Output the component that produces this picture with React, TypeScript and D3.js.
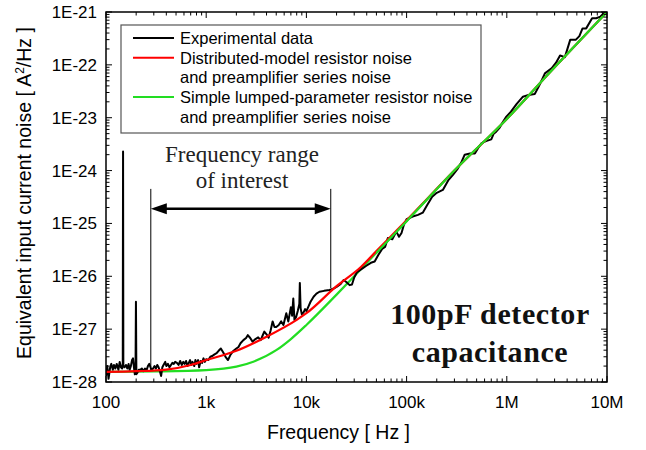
import React from "react";
import * as d3 from "d3";

const W = 646;
const H = 450;

// Tick labels
const xTickValues = [1e2, 1e3, 1e4, 1e5, 1e6, 1e7];
const xTickLabels = ["100", "1k", "10k", "100k", "1M", "10M"];
const yTickValues = [1e-28, 1e-27, 1e-26, 1e-25, 1e-24, 1e-23, 1e-22, 1e-21];
const yTickLabels = ["1E-28", "1E-27", "1E-26", "1E-25", "1E-24", "1E-23", "1E-22", "1E-21"];

// Experimental data (Hz)
const expFreq = [
  100, 103, 106, 110, 113, 117, 120, 124, 128, 133, 137, 141, 145, 147, 148, 149, 153, 158, 163, 168,
  172, 177, 182, 186, 190, 194, 197, 199, 201, 206, 212, 220, 228, 236, 245, 255, 262, 270, 278, 285,
  295, 305, 315, 325, 335, 345, 355, 365, 375, 390, 400, 415, 430, 445, 460, 475, 490, 510, 530, 550,
  570, 590, 610, 630, 650, 670, 690, 710, 730, 760, 780, 800, 830, 850, 880, 910, 940, 970, 1000,
  1050, 1100, 1150, 1200, 1270, 1330, 1400, 1480, 1560, 1650, 1750, 1850, 2000, 2100, 2200, 2350, 2500,
  2600, 2750, 2900, 3100, 3300, 3500, 3650, 3800, 4000, 4200, 4400, 4600, 4800, 5000, 5300, 5600, 5900,
  6300, 6600, 7000, 7200, 7400, 7600, 7900, 8200, 8500, 8600, 8750, 9000, 9400, 9700, 10000, 10500,
  11000, 11800, 12600, 13500, 15000, 17000, 18500, 20000, 22000, 23500, 25000, 27000, 28500, 30000,
  32000, 36000, 40000, 44000, 48000, 52000, 57000, 61000, 65000, 72000, 79000, 84000, 89000, 94000,
  100000, 115000, 130000, 145000, 160000, 180000, 200000, 230000, 260000, 290000, 320000, 350000,
  380000, 430000, 480000, 520000, 560000, 620000, 700000, 740000, 780000, 850000, 920000, 990000,
  1.1e6, 1.25e6, 1.45e6, 1.65e6, 1.9e6, 2.1e6, 2.4e6, 2.8e6, 3.1e6, 3.4e6, 3.8e6, 4.3e6, 4.9e6, 5.3e6,
  5.7e6, 6.2e6, 7.1e6, 7.8e6, 8.6e6, 9.5e6, 1e7,
];
// Experimental data (A^2/Hz)
const expNoise = [
  1.3e-28, 2.0e-28, 1.15e-28, 1.9e-28, 2.2e-28, 1.7e-28, 2.1e-28, 1.8e-28, 2.2e-28, 1.7e-28, 2.4e-28, 1.9e-28, 1.8e-28, 2.2e-28, 2.3e-24, 2.0e-28, 1.9e-28, 2.1e-28, 1.8e-28, 2.2e-28,
  1.7e-28, 2.0e-28, 2.6e-28, 2.8e-28, 1.9e-28, 1.4e-28, 1.6e-28, 3.3e-27, 1.4e-28, 1.5e-28, 1.7e-28, 1.7e-28, 1.8e-28, 1.6e-28, 1.8e-28, 1.7e-28, 2.0e-28, 2.2e-28, 1.9e-28, 1.7e-28,
  1.8e-28, 2.0e-28, 1.8e-28, 2.1e-28, 1.9e-28, 1.6e-28, 1.3e-28, 1.9e-28, 2.1e-28, 2.4e-28, 2.0e-28, 2.2e-28, 1.9e-28, 2.1e-28, 2.3e-28, 2.2e-28, 2.4e-28, 2.3e-28, 2.1e-28, 2.5e-28,
  2.1e-28, 2.4e-28, 2.2e-28, 2.5e-28, 2.0e-28, 2.3e-28, 2.6e-28, 2.1e-28, 2.4e-28, 2.0e-28, 2.6e-28, 2.2e-28, 2.6e-28, 1.9e-28, 2.5e-28, 2.3e-28, 2.8e-28, 2.4e-28, 2.7e-28,
  2.6e-28, 3.0e-28, 3.1e-28, 3.3e-28, 3.5e-28, 3.9e-28, 4.3e-28, 3.6e-28, 3.0e-28, 2.6e-28, 3.3e-28, 3.8e-28, 4.3e-28, 4.6e-28, 5.4e-28, 6.2e-28, 6.8e-28,
  7.7e-28, 6.8e-28, 5.8e-28, 6.5e-28, 7.0e-28, 6.2e-28, 7.5e-28, 9.0e-28, 8.0e-28, 6.9e-28, 9.5e-28, 1.4e-27, 1.1e-27, 1.1e-27, 1.2e-27, 1.4e-27, 1.2e-27,
  2.0e-27, 1.4e-27, 2.6e-27, 1.8e-27, 3.8e-27, 1.5e-27, 1.7e-27, 2.2e-27, 3.0e-27, 7.5e-27, 2.5e-27, 1.9e-27, 2.1e-27, 2.4e-27, 2.2e-27, 2.7e-27,
  3.3e-27, 4.1e-27, 4.7e-27, 5.1e-27, 5.3e-27, 5.5e-27, 5.8e-27, 6.3e-27, 7.2e-27, 8.5e-27, 7.8e-27, 6.8e-27, 7.0e-27, 9.5e-27,
  1.2e-26, 1.4e-26, 1.6e-26, 1.8e-26, 1.9e-26, 2.5e-26, 3.3e-26, 3.6e-26, 5.3e-26, 5.0e-26, 7.0e-26, 5.6e-26, 6.6e-26, 9.5e-26,
  1.2e-25, 1.35e-25, 1.45e-25, 1.6e-25, 2.2e-25, 3.2e-25, 3.8e-25, 4.3e-25, 6.5e-25, 8.3e-25, 1.05e-24, 1.4e-24,
  2.0e-24, 2.1e-24, 2.1e-24, 2.7e-24, 3.3e-24, 3.6e-24, 3.9e-24, 5.0e-24, 5.4e-24, 6.5e-24, 8.5e-24, 1.05e-23,
  1.3e-23, 1.8e-23, 2.5e-23, 2.7e-23, 2.8e-23, 4.0e-23, 6.9e-23, 8.6e-23, 1.1e-22, 1.5e-22, 1.4e-22, 3.0e-22, 3.0e-22, 3.5e-22,
  4.9e-22, 4.9e-22, 7.6e-22, 7.6e-22, 8.2e-22, 9.8e-22, 1.0e-21,
];

// Distributed-model curve
const distFreq = [100, 200, 400, 700, 1000, 2000, 4000, 8000, 10000, 20000, 35000, 50000, 100000, 300000, 1e6, 3e6, 1e7];
const distNoise = [1.55e-28, 1.6e-28, 1.72e-28, 2.1e-28, 2.6e-28, 3.9e-28, 7.2e-28, 1.5e-27, 2.0e-27, 6.5e-27, 1.5e-26, 3.0e-26, 1.15e-25, 1.0e-24, 9.5e-24, 9.0e-23, 1.0e-21];

// Simple lumped-parameter curve
const lumpFreq = [100, 300, 1000, 2000, 3000, 5000, 7000, 10000, 20000, 30000, 50000, 100000, 300000, 1e6, 3e6, 1e7];
const lumpNoise = [1.55e-28, 1.58e-28, 1.68e-28, 1.95e-28, 2.45e-28, 4.0e-28, 6.5e-28, 1.2e-27, 4.5e-27, 1.0e-26, 2.8e-26, 1.1e-25, 1.0e-24, 9.5e-24, 9.0e-23, 1.0e-21];

// Annotation (frequency range of interest)
const rangeFreq = [280, 17500];
const rangeLineBottom = [1.7e-28, 6e-27];
const rangeLineTop = 4.5e-25;
const rangeArrowLevel = 1.9e-25;

const legendItems = [
  { color: "#000000", lines: ["Experimental data"] },
  { color: "#ff0000", lines: ["Distributed-model resistor noise", "and preamplifier series noise"] },
  { color: "#22dd22", lines: ["Simple lumped-parameter resistor noise", "and preamplifier series noise"] },
];

const M = { left: 106, right: 607, top: 12, bottom: 382 };

export default function App() {
  const x = d3.scaleLog().domain([100, 1e7]).range([M.left, M.right]);
  const y = d3.scaleLog().domain([1e-28, 1e-21]).range([M.bottom, M.top]);

  const toPts = (fs: number[], vs: number[]) => fs.map((f, i) => [f, vs[i]] as [number, number]);
  const rough = d3.line<[number, number]>().x((d) => x(d[0])).y((d) => y(d[1]));
  const smooth = d3
    .line<[number, number]>()
    .x((d) => x(d[0]))
    .y((d) => y(d[1]))
    .curve(d3.curveMonotoneX);

  const xMinor: number[] = [];
  for (let e = 2; e < 7; e++) for (let k = 2; k <= 9; k++) xMinor.push(k * Math.pow(10, e));
  const yMinor: number[] = [];
  for (let e = -28; e < -21; e++) for (let k = 2; k <= 9; k++) yMinor.push(k * Math.pow(10, e));

  const majorLen = 6;
  const minorLen = 3.5;
  const tickFont = "Arial, 'Liberation Sans', sans-serif";
  const serif = "'Liberation Serif', 'Times New Roman', serif";

  const xl = x(rangeFreq[0]);
  const xr = x(rangeFreq[1]);
  const ya = y(rangeArrowLevel);

  const legX = 121, legY = 25, legW = 360, legH = 108;
  let row = 0;

  return (
    <svg width={W} height={H} style={{ position: "absolute", left: 0, top: 0, background: "#fff" }}>
      <defs>
        <clipPath id="plotclip">
          <rect x={M.left} y={M.top} width={M.right - M.left} height={M.bottom - M.top} />
        </clipPath>
      </defs>
      <rect x={0} y={0} width={W} height={H} fill="#fff" />

      {/* data */}
      <g clipPath="url(#plotclip)" fill="none" strokeLinejoin="round">
        <path d={smooth(toPts(lumpFreq, lumpNoise)) || ""} stroke="#22dd22" strokeWidth={2.2} />
        <path d={rough(toPts(expFreq, expNoise)) || ""} stroke="#000" strokeWidth={2} />
        <path d={smooth(toPts(distFreq, distNoise)) || ""} stroke="#ff0000" strokeWidth={2.2} />
        <path d={smooth(toPts(lumpFreq, lumpNoise).filter((d) => d[0] >= 50000)) || ""} stroke="#22dd22" strokeWidth={2.2} />
      </g>

      {/* frame */}
      <rect x={M.left} y={M.top} width={M.right - M.left} height={M.bottom - M.top} fill="none" stroke="#000" strokeWidth={1.5} />

      {/* ticks */}
      <g stroke="#000" strokeWidth={1}>
        {xTickValues.map((v) => (
          <g key={"xm" + v}>
            <line x1={x(v)} x2={x(v)} y1={M.bottom} y2={M.bottom - majorLen} />
            <line x1={x(v)} x2={x(v)} y1={M.top} y2={M.top + majorLen} />
          </g>
        ))}
        {xMinor.map((v) => (
          <g key={"xn" + v}>
            <line x1={x(v)} x2={x(v)} y1={M.bottom} y2={M.bottom - minorLen} />
            <line x1={x(v)} x2={x(v)} y1={M.top} y2={M.top + minorLen} />
          </g>
        ))}
        {yTickValues.map((v) => (
          <g key={"ym" + v}>
            <line x1={M.left} x2={M.left + majorLen} y1={y(v)} y2={y(v)} />
            <line x1={M.right} x2={M.right - majorLen} y1={y(v)} y2={y(v)} />
          </g>
        ))}
        {yMinor.map((v, i) => (
          <g key={"yn" + i}>
            <line x1={M.left} x2={M.left + minorLen} y1={y(v)} y2={y(v)} />
            <line x1={M.right} x2={M.right - minorLen} y1={y(v)} y2={y(v)} />
          </g>
        ))}
      </g>

      {/* tick labels */}
      <g fontFamily={tickFont} fontSize={17} fill="#000">
        {xTickValues.map((v, i) => (
          <text key={"xl" + v} x={x(v)} y={M.bottom + 26} textAnchor="middle">
            {xTickLabels[i]}
          </text>
        ))}
        {yTickValues.map((v, i) => (
          <text key={"yl" + v} x={M.left - 9} y={y(v) + 6} textAnchor="end">
            {yTickLabels[i]}
          </text>
        ))}
      </g>

      {/* axis titles */}
      <text x={(M.left + M.right) / 2 - 18} y={439} textAnchor="middle" fontFamily={tickFont} fontSize={19.5}>
        Frequency [ Hz ]
      </text>
      <text
        transform={`translate(31, 193) rotate(-90)`}
        textAnchor="middle"
        fontFamily={tickFont}
        fontSize={19.5}
      >
        Equivalent input current noise [ A<tspan dy={-7} fontSize={12}>2</tspan>
        <tspan dy={7}>/Hz ]</tspan>
      </text>

      {/* legend */}
      <rect x={legX} y={legY} width={legW} height={legH} fill="#fff" stroke="#555" strokeWidth={1.2} />
      <g fontFamily={tickFont} fontSize={16.5} fill="#000">
        {legendItems.map((it, i) => {
          const startRow = row;
          row += it.lines.length;
          const ly = legY + 13 + startRow * 19.7;
          return (
            <g key={"lg" + i}>
              <line x1={133} x2={174} y1={ly} y2={ly} stroke={it.color} strokeWidth={2} />
              {it.lines.map((t, j) => (
                <text key={j} x={180} y={ly + 6 + j * 19.7}>
                  {t}
                </text>
              ))}
            </g>
          );
        })}
      </g>

      {/* annotation */}
      <g stroke="#000">
        <line x1={xl} x2={xl} y1={y(rangeLineTop)} y2={y(rangeLineBottom[0])} strokeWidth={1} />
        <line x1={xr} x2={xr} y1={y(rangeLineTop)} y2={y(rangeLineBottom[1])} strokeWidth={1} />
        <line x1={xl + 12} x2={xr - 12} y1={ya} y2={ya} strokeWidth={2.6} />
      </g>
      <path d={`M${xl},${ya} L${xl + 16},${ya - 5.5} L${xl + 16},${ya + 5.5} Z`} fill="#000" />
      <path d={`M${xr},${ya} L${xr - 16},${ya - 5.5} L${xr - 16},${ya + 5.5} Z`} fill="#000" />
      <g fontFamily={serif} fontSize={23} textAnchor="middle" fill="#222">
        <text x={242} y={162}>Frequency range</text>
        <text x={242} y={188}>of interest</text>
      </g>
      <g fontFamily={serif} fontSize={30} fontWeight="bold" textAnchor="middle" fill="#111" letterSpacing={0.6}>
        <text x={490} y={324}>100pF detector</text>
        <text x={490} y={362}>capacitance</text>
      </g>
    </svg>
  );
}
